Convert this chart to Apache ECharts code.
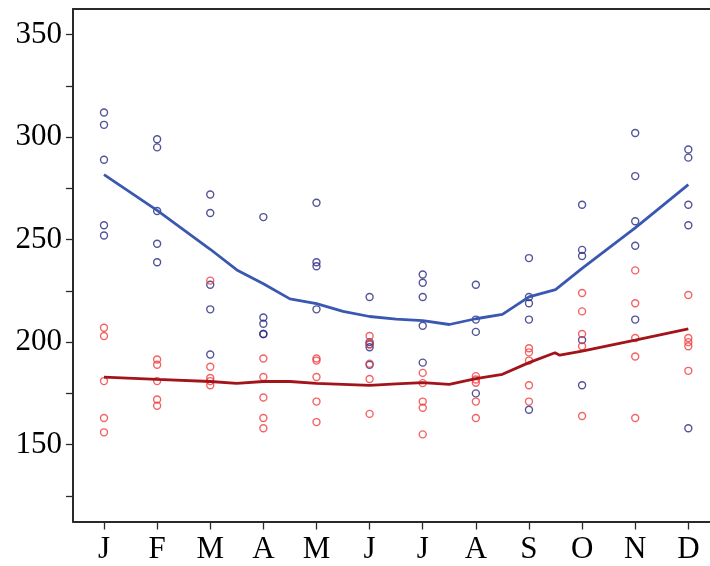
<!DOCTYPE html>
<html>
<head>
<meta charset="utf-8">
<script src="https://cdn.jsdelivr.net/npm/echarts@6/dist/echarts.min.js"></script>
<style>html,body{margin:0;padding:0;background:#fff;}#c{width:710px;height:566px;}</style>
</head>
<body>
<div id="c"></div>
<script>
const monthLabels = ['J','F','M','A','M','J','J','A','S','O','N','D'];
const yTickValues = [125,150,175,200,225,250,275,300,325,350];
const yLabelValues = [150,200,250,300,350];

// scatter observations per month (blue group)
const blueObs = [
  [312,306,289,257,252],
  [299,295,264,248,239],
  [272,263,228,216,194],
  [261,212,209,204,204],
  [268,239,237,216],
  [222,200,199,197.5,189],
  [233,229,222,208,190],
  [228,211,205,175],
  [241,222,219,211,167],
  [267,245,242,201,179],
  [302,281,259,247,211],
  [294,290,267,257,158]
];
// scatter observations per month (red group)
const redObs = [
  [207,203,181,163,156],
  [191.5,189,181,172,169],
  [230,188,182.5,181,179],
  [192,183,173,163,158],
  [192,191,183,171,161],
  [203,199,189.5,182,165],
  [185,180,171,168,155],
  [183.4,181.8,180.2,171,163],
  [197,195,191,179,171],
  [224,215,204,198,164],
  [235,219,202,193,163],
  [223,202,200,198,186]
];

// smoothed lines
const blueLineX = [1,2,3,3.5,4,4.5,5,5.5,6,6.5,7,7.5,8,8.5,9,9.5,10,11,12];
const blueLineY = [281.7,264.3,245.3,235.2,228.5,221.1,218.8,215,212.5,211.2,210.5,208.6,211.4,213.5,222.1,225.6,236.0,255.7,276.8];
const redLineX = [1,2,3,3.5,4,4.5,5,5.5,6,6.5,7,7.5,8,8.5,9,9.49,9.58,10,11,12];
const redLineY = [182.9,181.8,180.8,179.9,180.8,180.8,179.9,179.4,178.9,179.6,180.2,179.4,182.2,184.3,190.0,194.8,193.6,195.6,201.0,206.5];

function obsData(arr){
  const out = [];
  arr.forEach((vals,i)=>vals.forEach(v=>out.push([i+1,v])));
  return out;
}
function lineData(xs,ys){ return xs.map((x,i)=>[x,ys[i]]); }

const axisColor = '#2a2a2a';
const font = "'Liberation Serif', 'Times New Roman', serif";
const chart = echarts.init(document.getElementById('c'), null, {renderer:'canvas'});
chart.setOption({
  animation:false,
  backgroundColor:'#fff',
  grid:{left:73, top:9, width:637, height:512.5, containLabel:false},
  xAxis:[{
    type:'value', min:0.4164, max:12.408, position:'bottom',
    splitLine:{show:false},
    axisLine:{show:true, onZero:false, lineStyle:{color:axisColor, width:2}},
    axisTick:{show:true, length:8, customValues:[1,2,3,4,5,6,7,8,9,10,11,12], lineStyle:{color:axisColor, width:1.3}},
    axisLabel:{show:true, margin:13, customValues:[1,2,3,4,5,6,7,8,9,10,11,12],
      formatter:v=>monthLabels[Math.round(v)-1], color:'#000', fontFamily:font, fontSize:31}
  },{
    type:'value', min:0.4164, max:12.408, position:'top',
    splitLine:{show:false},
    axisLine:{show:true, onZero:false, lineStyle:{color:axisColor, width:2}},
    axisTick:{show:false}, axisLabel:{show:false}
  }],
  yAxis:{
    type:'value', min:112.5, max:362.5,
    splitLine:{show:false},
    axisLine:{show:true, onZero:false, lineStyle:{color:axisColor, width:2}},
    axisTick:{show:true, length:7, customValues:yTickValues, lineStyle:{color:axisColor, width:1.3}},
    axisLabel:{show:true, margin:11, customValues:yLabelValues, color:'#000', fontFamily:font, fontSize:31}
  },
  series:[
    {type:'scatter', data:obsData(blueObs), symbol:'circle', symbolSize:7,
     itemStyle:{color:'rgba(0,0,0,0)', borderColor:'#282880', borderWidth:1.4}, z:2},
    {type:'scatter', data:obsData(redObs), symbol:'circle', symbolSize:7,
     itemStyle:{color:'rgba(0,0,0,0)', borderColor:'#f03c3c', borderWidth:1.4}, z:3},
    {type:'line', data:lineData(blueLineX,blueLineY), showSymbol:false, symbol:'none',
     lineStyle:{color:'#3a58b2', width:2.8}, z:4},
    {type:'line', data:lineData(redLineX,redLineY), showSymbol:false, symbol:'none',
     lineStyle:{color:'#a3141a', width:2.8}, z:5}
  ]
});
</script>
</body>
</html>
